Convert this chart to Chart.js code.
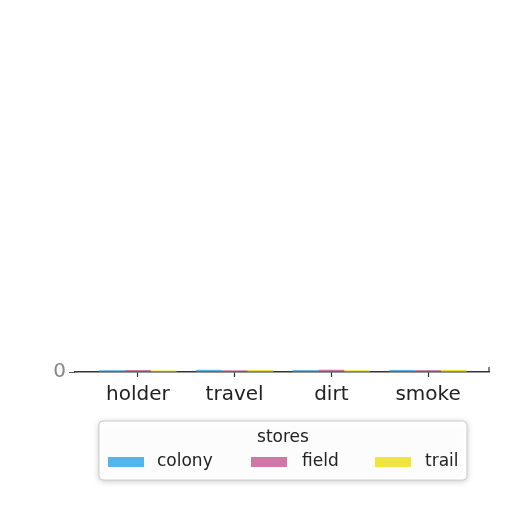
<!DOCTYPE html>
<html>
<head>
<meta charset="utf-8">
<script src="https://cdn.jsdelivr.net/npm/chart.js@4/dist/chart.umd.min.js"></script>
<style>
  html, body { margin: 0; padding: 0; background: #ffffff; }
  #wrap { width: 512px; height: 512px; position: relative; }
</style>
</head>
<body>
<div id="wrap"><canvas id="c" width="512" height="512"></canvas></div>
<script>
// ---- data ----
const categories = ["holder", "travel", "dirt", "smoke"];
const seriesNames = ["colony", "field", "trail"];
const colonyValues = [1.8, 2.2, 1.9, 2.1];
const fieldValues = [2.0, 1.7, 2.3, 1.9];
const trailValues = [1.6, 2.0, 1.8, 2.2];
const yTickValues = [0];
const legendTitle = "stores";

const seriesColors = ["#56B4E9", "#CC79A7", "#F0E442"];
const seriesValues = [colonyValues, fieldValues, trailValues];

const datasets = seriesNames.map((name, s) => ({
  label: name,
  data: categories.map((c, i) => ({ x: i, y: seriesValues[s][i] })),
  backgroundColor: seriesColors[s],
  borderWidth: 0,
  categoryPercentage: 0.8,
  barPercentage: 1.0
}));

const FONT = "'DejaVu Sans', 'Liberation Sans', sans-serif";

const frameAndLegend = {
  id: 'frameAndLegend',
  afterDraw(chart) {
    const ctx = chart.ctx;
    const ca = chart.chartArea;
    ctx.save();
    // right spine
    ctx.strokeStyle = '#333';
    ctx.lineWidth = 1.2;
    ctx.beginPath();
    ctx.moveTo(ca.right, ca.top);
    ctx.lineTo(ca.right, ca.bottom);
    ctx.stroke();

    // legend frame
    const L = { x: 99, y: 421, w: 368, h: 59, r: 4 };
    ctx.shadowColor = 'rgba(0,0,0,0.25)';
    ctx.shadowBlur = 6;
    ctx.shadowOffsetX = 0;
    ctx.shadowOffsetY = 1;
    ctx.fillStyle = 'rgba(255,255,255,0.95)';
    ctx.beginPath();
    ctx.roundRect(L.x, L.y, L.w, L.h, L.r);
    ctx.fill();
    ctx.shadowColor = 'transparent';
    ctx.strokeStyle = '#cccccc';
    ctx.lineWidth = 1;
    ctx.stroke();

    // title
    ctx.fillStyle = '#222';
    ctx.font = '17px ' + FONT;
    ctx.textAlign = 'center';
    ctx.textBaseline = 'middle';
    ctx.fillText(legendTitle, L.x + L.w / 2, 438);

    // items
    const boxX = [108, 251, 375];
    const textX = [157, 302, 425];
    ctx.textAlign = 'left';
    chart.data.datasets.forEach((ds, i) => {
      ctx.fillStyle = ds.backgroundColor;
      ctx.fillRect(boxX[i], 457, 36, 10);
      ctx.fillStyle = '#222';
      ctx.fillText(ds.label, textX[i], 462);
    });
    ctx.restore();
  }
};

new Chart(document.getElementById('c'), {
  type: 'bar',
  data: { datasets },
  options: {
    responsive: false,
    animation: false,
    devicePixelRatio: 1,
    layout: { padding: { left: 45, top: 367, right: 23, bottom: 100 } },
    plugins: {
      legend: { display: false },
      tooltip: { enabled: false }
    },
    scales: {
      x: {
        type: 'linear',
        min: -0.65,
        max: 3.63,
        offset: false,
        afterBuildTicks: (scale) => { scale.ticks = categories.map((c, i) => ({ value: i })); },
        afterFit: (scale) => { scale.height = 40; },
        ticks: {
          callback: (v) => categories[v] !== undefined ? categories[v] : '',
          font: { family: FONT, size: 20 },
          color: '#222',
          padding: 6,
          maxRotation: 0,
          autoSkip: false
        },
        grid: { offset: false, drawOnChartArea: false, drawTicks: true, tickLength: 5, color: '#333', tickWidth: 1.2 },
        border: { display: true, color: '#333', width: 1.5 }
      },
      y: {
        min: 0,
        max: 5,
        afterBuildTicks: (scale) => { scale.ticks = yTickValues.map(v => ({ value: v })); },
        afterFit: (scale) => { scale.width = 30; },
        ticks: {
          font: { family: FONT, size: 20 },
          color: '#888',
          padding: 3
        },
        grid: { drawOnChartArea: false, drawTicks: true, tickLength: 6, color: '#555' },
        border: { display: false }
      }
    }
  },
  plugins: [frameAndLegend]
});
</script>
</body>
</html>
